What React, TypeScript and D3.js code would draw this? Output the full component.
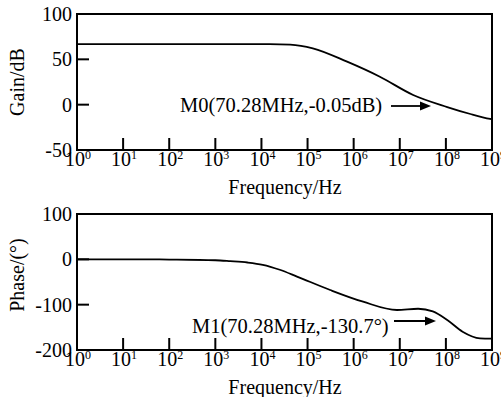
import * as d3 from "d3";
import { useRef, useEffect } from "react";

// gain curve
const gainFreq = [1, 10, 100, 1e3, 1e4, 2.5e4, 4.2e4, 1.3e5, 7.2e5, 3.7e6, 1.95e7, 1.07e8, 3.4e8, 9.1e8, 1e9];
const gainDb = [66.7, 66.7, 66.7, 66.7, 66.7, 66.6, 66.3, 62.2, 47.4, 30.8, 10.7, -2.6, -10.3, -15.8, -16.2];

// phase curve
const phaseFreq = [1, 10, 100, 1e3, 2.1e3, 5e3, 1.07e4, 2.5e4, 5.9e4, 3.1e5, 1.6e6, 8.7e6, 2.5e7, 5.2e7, 1.07e8, 2.3e8, 5.5e8, 1e9];
const phaseDeg = [0, 0, -0.5, -2, -4, -7, -12, -23, -38, -67.7, -93.5, -111.8, -109, -115, -133.8, -159.6, -174.2, -175];

const decades = [0, 1, 2, 3, 4, 5, 6, 7, 8, 9];
const gainTicks = [100, 50, 0, -50];
const phaseTicks = [100, 0, -100, -200];

const width = 501;
const height = 397;
const font = "'Liberation Serif', 'Times New Roman', serif";

export default function App() {
  const svgRef = useRef(null);

  useEffect(() => {
    document.body.style.margin = "0";
    const svg = d3.select(svgRef.current);
    svg.selectAll("*").remove();

    const left = 77;
    const right = 492;

    const x = d3.scaleLog().domain([1, 1e9]).range([left, right]);

    const drawPanel = (top, bottom, domain, ticks, tickMarks, freq, vals, yLabel, marker) => {
      const y = d3.scaleLinear().domain(domain).range([bottom, top]);
      const g = svg.append("g");

      // curve
      const line = d3.line()
        .x((d) => x(d[0]))
        .y((d) => y(d[1]))
        .curve(d3.curveMonotoneX);
      g.append("path")
        .attr("d", line(freq.map((f, i) => [f, vals[i]])))
        .attr("fill", "none")
        .attr("stroke", "#000")
        .attr("stroke-width", 1.8);

      // frame
      g.append("rect")
        .attr("x", left)
        .attr("y", top)
        .attr("width", right - left)
        .attr("height", bottom - top)
        .attr("fill", "none")
        .attr("stroke", "#000")
        .attr("stroke-width", 2);

      // x ticks pointing up
      decades.slice(1, -1).forEach((p) => {
        g.append("line")
          .attr("x1", x(Math.pow(10, p)))
          .attr("x2", x(Math.pow(10, p)))
          .attr("y1", bottom)
          .attr("y2", bottom - 12)
          .attr("stroke", "#000")
          .attr("stroke-width", 2);
      });

      // y ticks pointing right
      tickMarks.forEach((t) => {
        g.append("line")
          .attr("x1", left)
          .attr("x2", left + 12)
          .attr("y1", y(t))
          .attr("y2", y(t))
          .attr("stroke", "#000")
          .attr("stroke-width", 2);
      });

      // y tick labels
      ticks.forEach((t) => {
        g.append("text")
          .attr("x", 72)
          .attr("y", y(t) + 7)
          .attr("text-anchor", "end")
          .style("font-family", font)
          .style("font-size", "20px")
          .text(t);
      });

      // x tick labels 10^n
      decades.forEach((p) => {
        const t = g.append("text")
          .attr("x", x(Math.pow(10, p)) + 1)
          .attr("y", bottom + 16)
          .attr("text-anchor", "middle")
          .style("font-family", font)
          .style("font-size", "20px");
        t.append("tspan").text("10");
        t.append("tspan")
          .attr("dy", -7)
          .style("font-size", "12px")
          .text(p);
      });

      g.append("text")
        .attr("x", 285)
        .attr("y", bottom + 44)
        .attr("text-anchor", "middle")
        .style("font-family", font)
        .style("font-size", "20px")
        .text("Frequency/Hz");

      g.append("text")
        .attr("transform", `translate(24,${(top + bottom) / 2 + yLabel.dy}) rotate(-90)`)
        .attr("text-anchor", "middle")
        .style("font-family", font)
        .style("font-size", "20px")
        .text(yLabel.text);

      // marker annotation with arrow
      g.append("text")
        .attr("x", marker.x)
        .attr("y", marker.y)
        .style("font-family", font)
        .style("font-size", "20.5px")
        .text(marker.text);
      g.append("line")
        .attr("x1", marker.ax1)
        .attr("x2", marker.ax2 - 8)
        .attr("y1", marker.ay)
        .attr("y2", marker.ay)
        .attr("stroke", "#000")
        .attr("stroke-width", 1.8);
      g.append("path")
        .attr("d", `M${marker.ax2},${marker.ay} L${marker.ax2 - 11},${marker.ay - 4.5} L${marker.ax2 - 11},${marker.ay + 4.5} Z`)
        .attr("fill", "#000");
    };

    drawPanel(14, 150, [-50, 100], gainTicks, [50, 0], gainFreq, gainDb,
      { text: "Gain/dB", dy: 0 },
      { text: "M0(70.28MHz,-0.05dB)", x: 180, y: 112, ax1: 391, ax2: 431, ay: 106 });

    drawPanel(214, 350, [-200, 100], phaseTicks, [0, -100], phaseFreq, phaseDeg,
      { text: "Phase/(°)", dy: -7 },
      { text: "M1(70.28MHz,-130.7°)", x: 192, y: 333, ax1: 394, ax2: 436, ay: 321 });
  }, []);

  return <svg ref={svgRef} width={width} height={height} style={{ display: "block" }} />;
}
